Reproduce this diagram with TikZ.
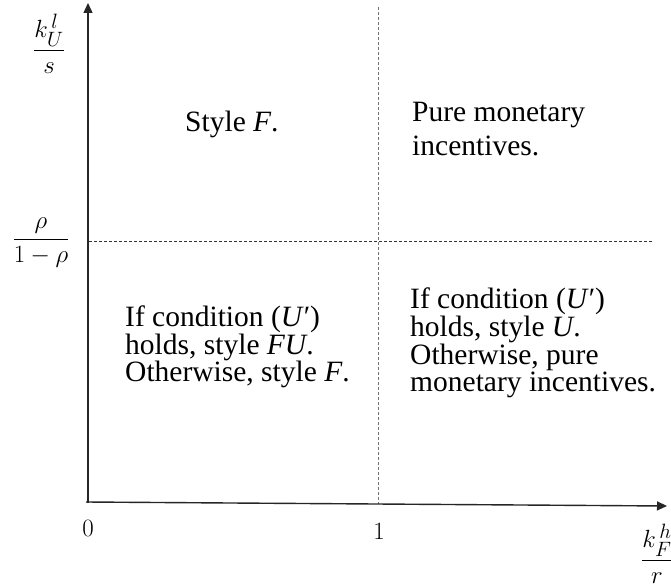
\documentclass[tikz,border=0pt]{standalone}
\usepackage{amsmath}
\usepackage{fontspec}
\setmainfont{Liberation Serif}
\usetikzlibrary{arrows.meta}
\begin{document}
\begin{tikzpicture}[x=1pt,y=-1pt,
  axis/.style={line width=1.4pt,draw=black!85,-{Triangle[length=10pt,width=9pt]}},
  guide/.style={line width=1pt,dash pattern=on 3pt off 2pt},
  region/.style={inner sep=0pt,align=left,anchor=north west,font=\fontsize{29.5}{27.6}\selectfont},
  lbl/.style={inner sep=0pt,font=\fontsize{29}{29}\selectfont}]
\useasboundingbox (0,0) rectangle (671,583);
\coordinate (O) at (88,502);
\coordinate (Ytop) at (88,3);
\coordinate (Xend) at (667,506);
\coordinate (Vtop) at (378.7,7);
\coordinate (Vbot) at (378.7,504);
\coordinate (Hl) at (89,241.7);
\coordinate (Hr) at (652,241.7);
% guides
\draw[guide,draw=black!55] (Vtop) -- (Vbot);
\draw[guide,draw=black!80] (Hl) -- (Hr);
% axes
\draw[axis] (88,503) -- (Ytop);
\draw[axis] (86,502) -- (Xend);
% axis labels
\node[lbl] (ylab) at (49,44) {$\dfrac{k_{U}^{\,l}}{s}$};
\node[lbl,font=\fontsize{32}{32}\selectfont] (rholab) at (41,243) {$\dfrac{\rho}{1-\rho}$};
\node[lbl] (zero) at (88,528) {$0$};
\node[lbl] (one) at (379,531) {$1$};
\node[lbl] (xlab) at (657,554) {$\dfrac{k_{F}^{\,h}}{r}$};
% region texts
\node[region] (tl) at (185,110.5) {Style \textit{F}.};
\node[region] (tr) at (412,101.5) {Pure monetary\\[6.5pt]incentives.};
\node[region] (bl) at (125,305.5) {If condition (\textit{U}′)\\holds, style \textit{FU}.\\Otherwise, style \textit{F}.};
\node[region] (br) at (410,288) {If condition (\textit{U}′)\\holds, style \textit{U}.\\Otherwise, pure\\monetary incentives.};
\end{tikzpicture}
\end{document}
